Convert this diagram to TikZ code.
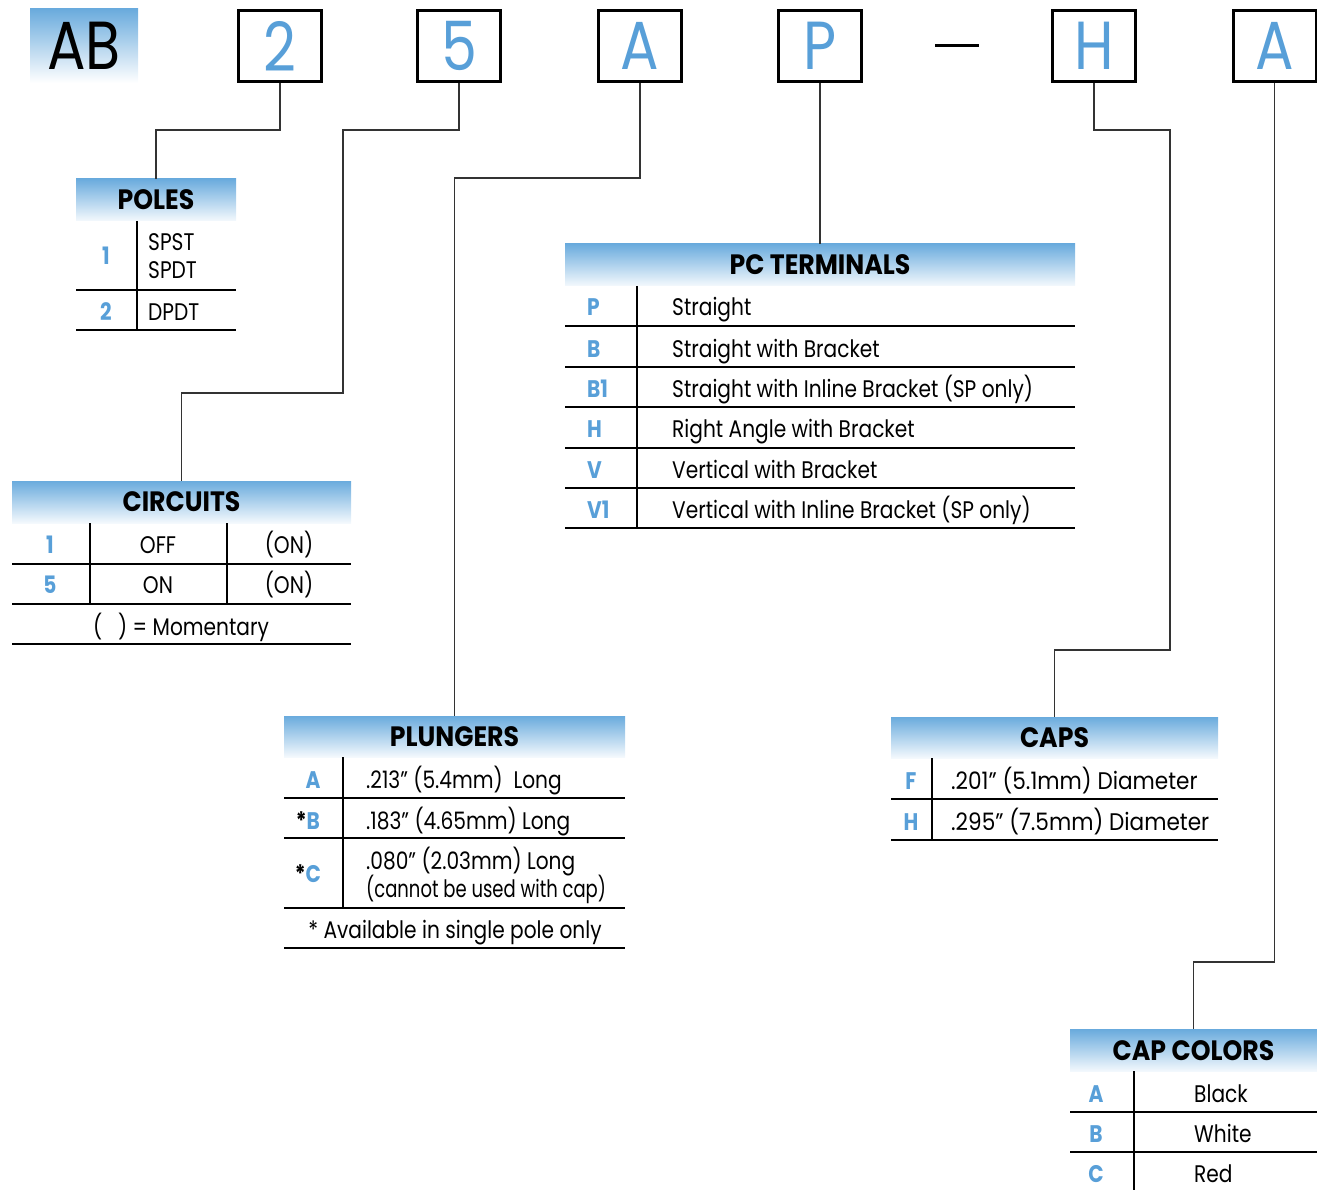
\documentclass[tikz,border=0pt]{standalone}
\usepackage{fontspec}
\newfontfamily\bodyf[FakeStretch=0.84]{Poppins}
\newfontfamily\narrowf[FakeStretch=0.75]{Poppins}
\newfontfamily\widef[FakeStretch=0.9]{Poppins}
\newfontfamily\hdrf[FakeStretch=0.9]{Poppins}
\definecolor{lblue}{HTML}{589FD8}
\definecolor{htop}{HTML}{6AABDD}
\definecolor{hbot}{HTML}{F4F9FD}
\definecolor{cgray}{HTML}{333333}
\tikzset{
  body/.style={font=\bodyf\fontsize{24}{28}\selectfont, inner sep=0pt, anchor=base west},
  bodyc/.style={body, anchor=base},
  lbl/.style={font=\bodyf\bfseries\fontsize{24}{28}\selectfont, text=lblue, inner sep=0pt, anchor=base},
  hdr/.style={font=\hdrf\bfseries\fontsize{28}{30}\selectfont, top color=htop, bottom color=hbot, inner sep=0pt, text=black},
  topbox/.style={draw=black, line width=3pt, minimum width=83pt, minimum height=71pt, inner sep=0pt, font=\bodyf\fontsize{68}{70}\selectfont, text=lblue},
  conn/.style={draw=cgray, line width=1.5pt},
  rule/.style={draw=black, line width=1.5pt},
}
\begin{document}
\begin{tikzpicture}[x=1pt,y=-1pt]
\useasboundingbox (0,0) rectangle (1317,1190);
% top code
\node[top color=htop, bottom color=white, minimum width=108pt, minimum height=74pt, inner sep=0pt, font=\bodyf\fontsize{68}{70}\selectfont] (ab) at (84,46) {AB};
\node[topbox] (b2) at (280,46) {2};
\node[topbox] (b5) at (459,46) {5};
\node[topbox] (bA) at (640,46) {A};
\node[topbox] (bP) at (820,46) {P};
\draw[line width=3pt] (935,46) -- (979,46);
\node[topbox] (bH) at (1094,46) {H};
\node[topbox] (bA2) at (1274.5,46) {A};

% headers
\node[hdr, minimum width=160pt, minimum height=42pt] (hPoles) at (156,200) {POLES};
\node[hdr, minimum width=339pt, minimum height=42pt] (hCirc) at (181.5,502) {CIRCUITS};
\node[hdr, minimum width=510pt, minimum height=42pt] (hPC) at (820,265) {PC TERMINALS};
\node[hdr, minimum width=341pt, minimum height=41pt] (hPlung) at (454.5,736.5) {PLUNGERS};
\node[hdr, minimum width=327pt, minimum height=41pt] (hCaps) at (1054.5,737.5) {CAPS};
\node[hdr, minimum width=247pt, minimum height=42pt] (hCol) at (1193.5,1050.5) {CAP COLORS};

% connectors
\draw[conn] (b2.south) -- (b2.south |- 0,130) -| (hPoles.north);
\draw[conn] (b5.south) -- (b5.south |- 0,130) -| (343,393) -| (hCirc.north);
\draw[conn] (bA.south) -- (bA.south |- 0,178) -| (hPlung.north);
\draw[conn] (bP.south) -- (hPC.north);
\draw[conn] (bH.south) -- (bH.south |- 0,130) -| (1170,650) -| (hCaps.north);
\draw[conn] (bA2.south) -- (bA2.south |- 0,962) -| (hCol.north);

% POLES table
\draw[rule] (137,221) -- (137,330);
\draw[rule] (76,290) -- (236,290);
\draw[rule] (76,330) -- (236,330);
\node[lbl] (p1) at (106,265) {1};
\node[body] (p1a) at (148,251) {SPST};
\node[body] (p1b) at (148,279) {SPDT};
\node[lbl] (p2) at (106,320) {2};
\node[body] (p2a) at (148,320) {DPDT};

% CIRCUITS table
\draw[rule] (90,523) -- (90,604);
\draw[rule] (227,523) -- (227,604);
\draw[rule] (12,564) -- (351,564);
\draw[rule] (12,604) -- (351,604);
\draw[rule] (12,644) -- (351,644);
\node[lbl] (c1) at (50,553) {1};
\node[bodyc] (c1a) at (158,553) {OFF};
\node[bodyc] (c1b) at (289,553) {(ON)};
\node[lbl] (c5) at (50,593) {5};
\node[bodyc] (c5a) at (158,593) {ON};
\node[bodyc] (c5b) at (289,593) {(ON)};
\node[bodyc] (cm) at (181,635) {(\hspace{16pt}) = Momentary};

% PC TERMINALS table
\draw[rule] (637,286) -- (637,528);
\foreach \yy in {326,367,407,448,488,528} \draw[rule] (565,\yy) -- (1075,\yy);
\node[lbl, anchor=base west] (tP) at (587,316) {P};
\node[body] (tPa) at (672,316) {Straight};
\node[lbl, anchor=base west] (tB) at (587,357) {B};
\node[body] (tBa) at (672,357) {Straight with Bracket};
\node[lbl, anchor=base west] (tB1) at (587,397) {B1};
\node[body] (tB1a) at (672,397) {Straight with Inline Bracket (SP only)};
\node[lbl, anchor=base west] (tH) at (587,437) {H};
\node[body] (tHa) at (672,437) {Right Angle with Bracket};
\node[lbl, anchor=base west] (tV) at (587,478) {V};
\node[body] (tVa) at (672,478) {Vertical with Bracket};
\node[lbl, anchor=base west] (tV1) at (587,518) {V1};
\node[body] (tV1a) at (672,518) {Vertical with Inline Bracket (SP only)};

% PLUNGERS table
\draw[rule] (343,757) -- (343,907);
\foreach \yy in {798,838,908,948} \draw[rule] (284,\yy) -- (625,\yy);
\node[lbl] (pA) at (313,788) {A};
\node[body] (pAa) at (366,788) {.213” (5.4mm)\ \ Long};
\node[lbl] (pB) at (308,829) {\textcolor{black}{*}B};
\node[body] (pBa) at (366,829) {.183” (4.65mm) Long};
\node[lbl] (pC) at (308,882) {\textcolor{black}{*}C};
\node[body] (pCa) at (366,869) {.080” (2.03mm) Long};
\node[body, font=\narrowf\fontsize{24}{28}\selectfont] (pCb) at (366,897) {(cannot be used with cap)};
\node[bodyc] (pN) at (455,938) {* Available in single pole only};

% CAPS table
\draw[rule] (932,758) -- (932,840);
\draw[rule] (891,799) -- (1218,799);
\draw[rule] (891,840) -- (1218,840);
\node[lbl] (kF) at (911,789) {F};
\node[body, font=\widef\fontsize{24}{28}\selectfont] (kFa) at (951,789) {.201” (5.1mm) Diameter};
\node[lbl] (kH) at (911,830) {H};
\node[body, font=\widef\fontsize{24}{28}\selectfont] (kHa) at (951,830) {.295” (7.5mm) Diameter};

% CAP COLORS table
\draw[rule] (1134,1071) -- (1134,1190);
\draw[rule] (1070,1112) -- (1317,1112);
\draw[rule] (1070,1152) -- (1317,1152);
\node[lbl] (oA) at (1096,1102) {A};
\node[body] (oAa) at (1194,1102) {Black};
\node[lbl] (oB) at (1096,1142) {B};
\node[body] (oBa) at (1194,1142) {White};
\node[lbl] (oC) at (1096,1182) {C};
\node[body] (oCa) at (1194,1182) {Red};
\end{tikzpicture}
\end{document}
